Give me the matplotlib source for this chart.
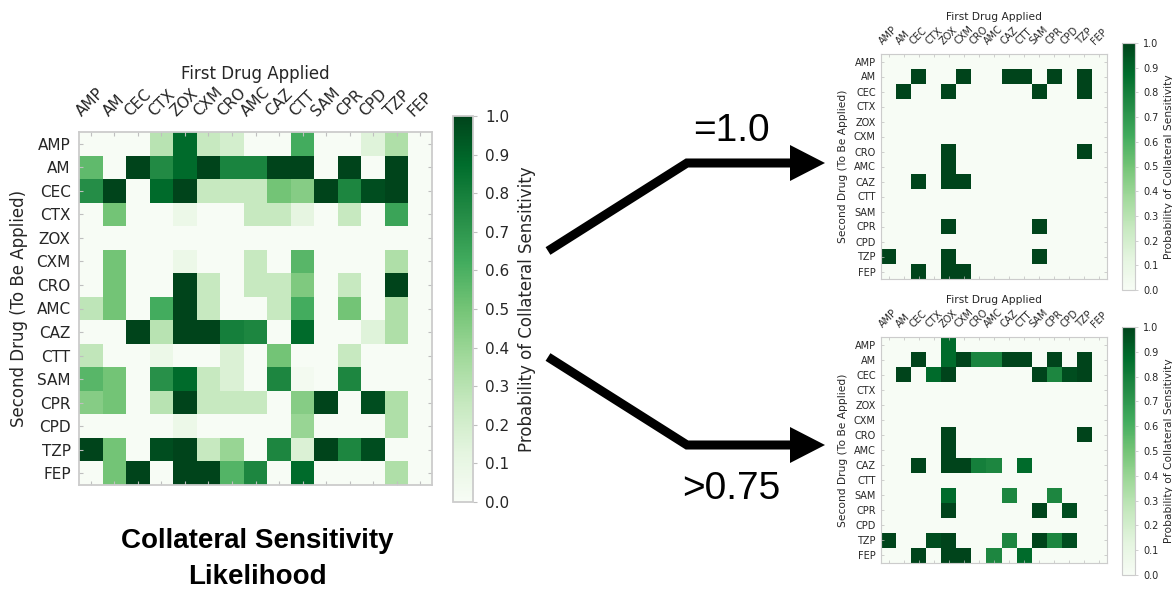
import numpy as np
import matplotlib
matplotlib.use('Agg')
import matplotlib.pyplot as plt
from matplotlib.lines import Line2D
from matplotlib.patches import Polygon

drugs = ['AMP', 'AM', 'CEC', 'CTX', 'ZOX', 'CXM', 'CRO', 'AMC',
         'CAZ', 'CTT', 'SAM', 'CPR', 'CPD', 'TZP', 'FEP']

# rows = second drug (to be applied), columns = first drug applied
cs_prob = [
    # AMP  AM    CEC   CTX   ZOX   CXM   CRO   AMC   CAZ   CTT   SAM   CPR   CPD   TZP   FEP
    [0.00, 0.00, 0.00, 0.30, 0.88, 0.25, 0.20, 0.00, 0.00, 0.62, 0.00, 0.00, 0.15, 0.33, 0.00],  # AMP
    [0.55, 0.00, 1.00, 0.75, 0.88, 1.00, 0.78, 0.78, 1.00, 1.00, 0.00, 1.00, 0.00, 1.00, 0.00],  # AM
    [0.74, 1.00, 0.00, 0.88, 1.00, 0.25, 0.25, 0.25, 0.50, 0.45, 1.00, 0.77, 0.97, 1.00, 0.00],  # CEC
    [0.00, 0.50, 0.00, 0.00, 0.08, 0.00, 0.00, 0.25, 0.25, 0.12, 0.00, 0.25, 0.00, 0.65, 0.00],  # CTX
    [0.00, 0.00, 0.00, 0.00, 0.00, 0.00, 0.00, 0.00, 0.00, 0.00, 0.00, 0.00, 0.00, 0.00, 0.00],  # ZOX
    [0.00, 0.50, 0.00, 0.00, 0.08, 0.00, 0.00, 0.25, 0.00, 0.57, 0.00, 0.00, 0.00, 0.33, 0.00],  # CXM
    [0.00, 0.50, 0.00, 0.00, 1.00, 0.25, 0.00, 0.25, 0.25, 0.47, 0.00, 0.25, 0.00, 1.00, 0.00],  # CRO
    [0.28, 0.50, 0.00, 0.62, 1.00, 0.25, 0.00, 0.00, 0.25, 0.62, 0.00, 0.50, 0.00, 0.33, 0.00],  # AMC
    [0.00, 0.00, 1.00, 0.30, 1.00, 1.00, 0.80, 0.77, 0.00, 0.88, 0.00, 0.00, 0.15, 0.33, 0.00],  # CAZ
    [0.27, 0.00, 0.00, 0.08, 0.00, 0.00, 0.17, 0.00, 0.50, 0.00, 0.00, 0.25, 0.00, 0.00, 0.00],  # CTT
    [0.57, 0.50, 0.00, 0.73, 0.88, 0.25, 0.17, 0.00, 0.77, 0.03, 0.00, 0.77, 0.00, 0.00, 0.00],  # SAM
    [0.45, 0.50, 0.00, 0.30, 1.00, 0.25, 0.25, 0.25, 0.00, 0.45, 1.00, 0.00, 0.97, 0.33, 0.00],  # CPR
    [0.00, 0.00, 0.00, 0.00, 0.08, 0.00, 0.00, 0.00, 0.00, 0.40, 0.00, 0.00, 0.00, 0.33, 0.00],  # CPD
    [1.00, 0.50, 0.00, 0.97, 1.00, 0.25, 0.40, 0.00, 0.77, 0.17, 1.00, 0.77, 0.97, 0.00, 0.00],  # TZP
    [0.00, 0.50, 1.00, 0.00, 1.00, 1.00, 0.58, 0.77, 0.00, 0.88, 0.00, 0.00, 0.00, 0.33, 0.00],  # FEP
]

cut_high = 0.75
probs = np.array(cs_prob)
only_one = np.where(probs == 1.0, probs, 0.0)
above_cut = np.where(probs > cut_high, probs, 0.0)

W, H = 1172, 593
fig = plt.figure(figsize=(W / 100, H / 100), dpi=100)
TXT = '#262626'


def box(x0, y0, x1, y1):
    # pixel box (top-left origin) -> figure rect
    return [x0 / W, 1 - y1 / H, (x1 - x0) / W, (y1 - y0) / H]


def fx(x, y):
    return (x / W, 1 - y / H)


def heatmap(data, hm_box, cb_box, s=1.0):
    ax = fig.add_axes(box(*hm_box))
    cax = fig.add_axes(box(*cb_box))
    n = len(drugs)
    mesh = ax.pcolormesh(data, cmap='Greens', vmin=0, vmax=1)
    ax.set_xlim(0, n)
    ax.set_ylim(n, 0)
    ax.set_xticks(np.arange(n) + 0.5)
    ax.set_yticks(np.arange(n) + 0.5)
    ax.set_xticklabels(drugs, rotation=45, fontsize=11 * s, color=TXT)
    ax.set_yticklabels(drugs, fontsize=11 * s, color=TXT)
    ax.tick_params(axis='both', direction='in', top=True, bottom=True, left=True, right=True,
                   labeltop=True, labelbottom=False, labelleft=True, labelright=False,
                   color='0.75', length=3 * s, width=0.8 * s)
    ax.tick_params(axis='x', pad=9 * s)
    ax.tick_params(axis='y', pad=6 * s)
    ax.xaxis.set_label_position('top')
    ax.set_xlabel('First Drug Applied', fontsize=12 * s, color=TXT, labelpad=4 * s)
    ax.set_ylabel('Second Drug (To Be Applied)', fontsize=12 * s, color=TXT, labelpad=6 * s)
    for sp in ax.spines.values():
        sp.set_color('0.8')
        sp.set_linewidth(1.3 * s)

    cb = fig.colorbar(mesh, cax=cax, ticks=np.linspace(0, 1, 11))
    cb.outline.set_edgecolor('0.8')
    cb.outline.set_linewidth(1.3 * s)
    cax.tick_params(labelsize=11 * s, labelcolor=TXT, color='0.75', length=3 * s,
                    width=0.8 * s, pad=6 * s)
    cax.set_yticklabels(['%.1f' % t for t in np.linspace(0, 1, 11)])
    cb.set_label('Probability of Collateral Sensitivity', fontsize=12 * s, color=TXT,
                 labelpad=6 * s)
    return ax


heatmap(probs, (79, 132, 432, 485), (453, 116, 473, 502))
heatmap(only_one, (881, 54, 1107, 279), (1122, 43, 1135, 290), s=0.64)
heatmap(above_cut, (881, 337, 1107, 563), (1122, 327, 1135, 575), s=0.64)

fig.text(0.2197, 0.058, 'Collateral Sensitivity\nLikelihood', ha='center', va='center',
         fontsize=20, fontweight='bold', family='Liberation Sans', linespacing=1.5)

# arrows
for pts, tip_y in [([(548, 251), (687, 163), (792, 163)], 163),
                   ([(548, 357), (687, 445), (792, 445)], 445)]:
    xs, ys = zip(*[fx(*p) for p in pts])
    fig.add_artist(Line2D(xs, ys, transform=fig.transFigure, color='black', lw=6.5,
                          solid_capstyle='butt', solid_joinstyle='miter'))
    head = [fx(790, tip_y - 18), fx(825, tip_y), fx(790, tip_y + 18)]
    fig.add_artist(Polygon(head, closed=True, transform=fig.transFigure,
                           facecolor='black', edgecolor='none'))

fig.text(731.7 / W, 1 - 141 / H, '=1.0', ha='center', va='baseline', fontsize=28,
         family='Liberation Sans', color='black')
fig.text(731.7 / W, 1 - 499 / H, '>0.75', ha='center', va='baseline', fontsize=28,
         family='Liberation Sans', color='black')

fig.savefig('out.png', dpi=100, facecolor='white')
